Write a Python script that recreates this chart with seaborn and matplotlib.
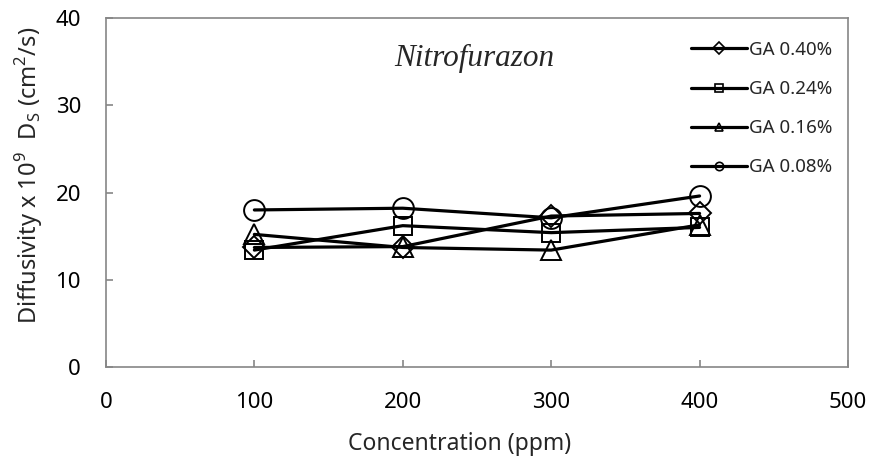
import matplotlib
matplotlib.use("Agg")
import matplotlib.pyplot as plt
from matplotlib.lines import Line2D
import seaborn as sns
import pandas as pd

# Concentrations and diffusivities (x 1e9 cm^2/s) for each gum arabic level
concentration = [100, 200, 300, 400]
ga_040 = [13.7, 13.8, 17.3, 17.6]
ga_024 = [13.4, 16.2, 15.4, 16.0]
ga_016 = [15.2, 13.7, 13.4, 16.3]
ga_008 = [18.0, 18.2, 17.1, 19.6]

series_names = ["GA 0.40%", "GA 0.24%", "GA 0.16%", "GA 0.08%"]
series_values = [ga_040, ga_024, ga_016, ga_008]
series_markers = ["D", "s", "^", "o"]
marker_sizes = [11, 13, 14, 15]

x_ticks = [0, 100, 200, 300, 400, 500]
y_ticks = [0, 10, 20, 30, 40]

sns.set_theme(style="white")
plt.rcParams["font.family"] = ["Noto Sans", "DejaVu Sans"]
plt.rcParams["mathtext.fontset"] = "custom"
plt.rcParams["mathtext.rm"] = "Noto Sans"

rows = []
for name, vals in zip(series_names, series_values):
    for c, v in zip(concentration, vals):
        rows.append({"Concentration": c, "Diffusivity": v, "Series": name})
df = pd.DataFrame(rows)

fig = plt.figure(figsize=(8.7, 4.59), dpi=100)
ax = fig.add_axes([0.1218, 0.2004, 0.8529, 0.7604])

for name, mk, ms in zip(series_names, series_markers, marker_sizes):
    sub = df[df["Series"] == name]
    sns.lineplot(data=sub, x="Concentration", y="Diffusivity", ax=ax,
                 color="black", linewidth=2.3, marker=mk, markersize=ms,
                 markerfacecolor="none", markeredgecolor="black",
                 markeredgewidth=1.4, legend=False)

ax.set_xlim(0, 500)
ax.set_ylim(0, 40)
ax.set_xticks(x_ticks)
ax.set_yticks(y_ticks)
ax.tick_params(axis="both", labelsize=16, labelcolor="black",
               color="#868686", length=5, direction="in", width=1.2,
               left=True, bottom=True, pad=18)
for sp in ax.spines.values():
    sp.set_color("#868686")
    sp.set_linewidth(1.2)

ax.set_xlabel("Concentration (ppm)", fontsize=16.5)
ax.xaxis.set_label_coords(0.477, -0.185)
ax.set_ylabel("Diffusivity x 10$^\\mathregular{9}$  D$_\\mathregular{S}$ (cm$^\\mathregular{2}$/s)",
              fontsize=17)
ax.yaxis.set_label_coords(-0.082, 0.55)

ax.text(0.496, 0.885, "Nitrofurazon", transform=ax.transAxes, ha="center",
        va="center", fontsize=22.5, fontstyle="italic",
        family=["Liberation Serif", "DejaVu Serif"])

handles = [Line2D([], [], color="black", linewidth=2.3, marker=mk,
                  markersize=6, markerfacecolor="none",
                  markeredgecolor="black", markeredgewidth=1.2)
           for mk in series_markers]
ax.legend(handles, series_names, loc="upper right",
          bbox_to_anchor=(0.997, 0.972), frameon=False, fontsize=13.5,
          handlelength=3.0, handletextpad=0.12, labelspacing=1.13,
          borderaxespad=0.3)

fig.savefig("out.png", dpi=100)
